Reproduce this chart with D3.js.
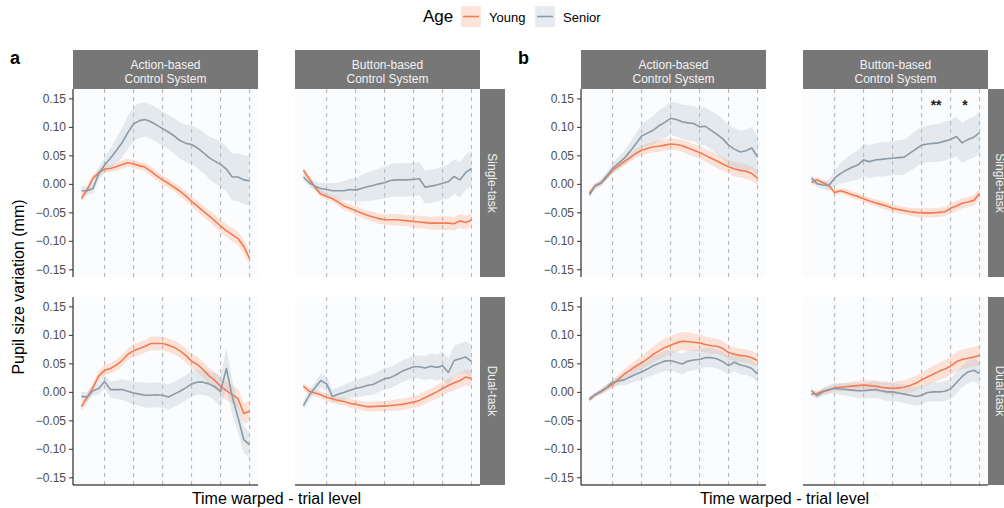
<!DOCTYPE html>
<html>
<head>
<meta charset="utf-8">
<script src="https://cdn.jsdelivr.net/npm/d3@7"></script>
<style>
  body { margin: 0; background: #fff; }
  svg { display: block; font-family: "Liberation Sans", Arial, sans-serif; }
</style>
</head>
<body>
<div id="chart"></div>
<script>
// ---- data ----
const timePoints = [2,4,6,8,10,12,14,16,18,20,22,24,26,28,30,32,34,36,38,40,42,44,46,48,50,52,54,56,58,60];
const phaseMarks = [10, 20, 30, 40, 50, 60];
const yTicks = [0.15, 0.10, 0.05, 0.00, -0.05, -0.10, -0.15];
const figures = ["a", "b"];
const systems = ["Action-based\nControl System", "Button-based\nControl System"];
const tasks = ["Single-task", "Dual-task"];
const ageGroups = ["Young", "Senior"];

// figure a
const aSingleActionYoung = [-0.026,-0.010,0.010,0.020,0.026,0.027,0.030,0.034,0.037,0.035,0.032,0.029,0.022,0.014,0.007,0.001,-0.006,-0.013,-0.021,-0.031,-0.039,-0.048,-0.056,-0.065,-0.074,-0.082,-0.089,-0.096,-0.110,-0.131];
const aSingleActionYoungSe = [0.006,0.006,0.006,0.006,0.006,0.006,0.007,0.007,0.007,0.007,0.007,0.007,0.008,0.008,0.008,0.008,0.008,0.009,0.009,0.009,0.010,0.010,0.010,0.011,0.011,0.011,0.012,0.012,0.012,0.012];
const aSingleActionSenior = [-0.012,-0.012,-0.008,0.018,0.033,0.045,0.058,0.072,0.090,0.105,0.111,0.113,0.109,0.103,0.097,0.091,0.084,0.076,0.071,0.069,0.063,0.055,0.046,0.040,0.034,0.026,0.012,0.012,0.007,0.005];
const aSingleActionSeniorSe = [0.008,0.008,0.009,0.011,0.013,0.017,0.022,0.026,0.029,0.030,0.031,0.030,0.030,0.030,0.030,0.030,0.031,0.032,0.033,0.034,0.035,0.036,0.037,0.039,0.040,0.040,0.041,0.042,0.043,0.044];

const aSingleButtonYoung = [0.024,0.009,-0.006,-0.018,-0.022,-0.026,-0.032,-0.039,-0.043,-0.047,-0.051,-0.055,-0.058,-0.061,-0.063,-0.063,-0.063,-0.064,-0.065,-0.066,-0.067,-0.068,-0.069,-0.069,-0.069,-0.069,-0.070,-0.065,-0.068,-0.063];
const aSingleButtonYoungSe = [0.005,0.005,0.005,0.006,0.006,0.006,0.007,0.007,0.007,0.008,0.008,0.008,0.009,0.009,0.009,0.010,0.010,0.010,0.010,0.011,0.011,0.011,0.011,0.012,0.012,0.012,0.012,0.012,0.012,0.012];
const aSingleButtonSenior = [0.012,0.002,-0.004,-0.008,-0.010,-0.012,-0.012,-0.012,-0.010,-0.011,-0.008,-0.005,-0.003,0.000,0.002,0.006,0.007,0.007,0.007,0.008,0.009,-0.006,-0.004,-0.002,0.001,0.004,0.013,0.007,0.020,0.027];
const aSingleButtonSeniorSe = [0.006,0.007,0.008,0.010,0.012,0.013,0.015,0.017,0.019,0.021,0.023,0.025,0.026,0.027,0.028,0.029,0.029,0.029,0.029,0.029,0.029,0.029,0.029,0.029,0.029,0.030,0.030,0.031,0.031,0.031];

const aDualActionYoung = [-0.026,-0.010,0.008,0.028,0.038,0.041,0.047,0.055,0.066,0.072,0.076,0.080,0.085,0.085,0.085,0.082,0.078,0.072,0.064,0.054,0.048,0.039,0.028,0.020,0.010,0.002,-0.005,-0.012,-0.038,-0.034];
const aDualActionYoungSe = [0.008,0.008,0.008,0.009,0.009,0.009,0.010,0.010,0.010,0.011,0.011,0.011,0.012,0.012,0.012,0.012,0.012,0.012,0.013,0.013,0.013,0.014,0.014,0.015,0.015,0.016,0.016,0.017,0.018,0.018];
const aDualActionSenior = [-0.008,-0.009,0.002,0.006,0.018,0.004,0.004,0.004,0.001,-0.002,-0.004,-0.006,-0.006,-0.005,-0.006,-0.009,-0.004,0.001,0.007,0.014,0.017,0.017,0.014,0.009,0.001,0.041,-0.008,-0.045,-0.084,-0.093];
const aDualActionSeniorSe = [0.008,0.008,0.009,0.010,0.012,0.014,0.016,0.018,0.019,0.020,0.021,0.022,0.022,0.022,0.022,0.022,0.022,0.022,0.022,0.022,0.022,0.022,0.022,0.024,0.028,0.036,0.030,0.026,0.024,0.022];

const aDualButtonYoung = [0.010,0.001,-0.002,-0.005,-0.010,-0.012,-0.015,-0.017,-0.020,-0.022,-0.024,-0.026,-0.026,-0.025,-0.025,-0.024,-0.023,-0.022,-0.020,-0.018,-0.015,-0.010,-0.005,0.000,0.006,0.011,0.016,0.020,0.026,0.023];
const aDualButtonYoungSe = [0.006,0.006,0.006,0.006,0.007,0.007,0.007,0.007,0.008,0.008,0.008,0.008,0.009,0.009,0.009,0.009,0.010,0.010,0.010,0.010,0.011,0.011,0.011,0.012,0.012,0.012,0.013,0.013,0.014,0.014];
const aDualButtonSenior = [-0.024,-0.006,0.007,0.020,0.014,-0.008,-0.004,-0.001,0.003,0.006,0.008,0.011,0.013,0.018,0.023,0.025,0.030,0.036,0.040,0.044,0.044,0.042,0.045,0.043,0.046,0.034,0.055,0.058,0.061,0.053];
const aDualButtonSeniorSe = [0.008,0.009,0.010,0.012,0.013,0.012,0.012,0.013,0.014,0.015,0.016,0.017,0.018,0.018,0.019,0.019,0.019,0.019,0.019,0.020,0.020,0.021,0.022,0.023,0.024,0.025,0.026,0.027,0.028,0.030];

// figure b
const bSingleActionYoung = [-0.016,-0.003,0.001,0.012,0.024,0.031,0.039,0.046,0.053,0.059,0.062,0.065,0.066,0.068,0.070,0.069,0.067,0.063,0.059,0.055,0.050,0.045,0.040,0.035,0.030,0.026,0.024,0.022,0.018,0.010];
const bSingleActionYoungSe = [0.004,0.004,0.005,0.005,0.006,0.006,0.007,0.007,0.008,0.008,0.009,0.009,0.010,0.010,0.010,0.010,0.010,0.011,0.011,0.011,0.011,0.012,0.012,0.012,0.012,0.013,0.013,0.013,0.013,0.013];
const bSingleActionSenior = [-0.019,-0.004,0.002,0.014,0.027,0.036,0.045,0.057,0.070,0.084,0.089,0.094,0.102,0.108,0.115,0.113,0.109,0.107,0.106,0.100,0.101,0.094,0.087,0.079,0.068,0.061,0.056,0.058,0.063,0.047];
const bSingleActionSeniorSe = [0.005,0.005,0.006,0.007,0.009,0.011,0.013,0.016,0.019,0.021,0.023,0.025,0.027,0.028,0.029,0.030,0.030,0.031,0.031,0.032,0.033,0.034,0.035,0.035,0.036,0.036,0.037,0.037,0.037,0.037];

const bSingleButtonYoung = [0.003,0.007,0.002,-0.003,-0.015,-0.012,-0.015,-0.019,-0.022,-0.026,-0.030,-0.033,-0.036,-0.039,-0.043,-0.045,-0.047,-0.049,-0.050,-0.051,-0.051,-0.051,-0.050,-0.049,-0.043,-0.039,-0.034,-0.032,-0.029,-0.017];
const bSingleButtonYoungSe = [0.005,0.005,0.005,0.005,0.005,0.005,0.006,0.006,0.006,0.006,0.006,0.006,0.007,0.007,0.007,0.007,0.007,0.007,0.008,0.008,0.008,0.008,0.008,0.008,0.009,0.009,0.009,0.009,0.009,0.009];
const bSingleButtonSenior = [0.010,0.000,-0.002,-0.003,0.010,0.018,0.024,0.029,0.033,0.042,0.039,0.042,0.043,0.044,0.045,0.046,0.047,0.054,0.061,0.068,0.070,0.071,0.072,0.075,0.078,0.083,0.072,0.078,0.082,0.090];
const bSingleButtonSeniorSe = [0.006,0.006,0.007,0.010,0.014,0.018,0.021,0.024,0.026,0.028,0.029,0.029,0.030,0.030,0.030,0.031,0.031,0.031,0.032,0.032,0.032,0.033,0.033,0.034,0.034,0.035,0.035,0.036,0.036,0.037];

const bDualActionYoung = [-0.014,-0.005,0.000,0.007,0.013,0.022,0.031,0.038,0.045,0.051,0.058,0.066,0.072,0.078,0.082,0.086,0.089,0.088,0.087,0.086,0.083,0.081,0.080,0.076,0.069,0.066,0.064,0.063,0.060,0.055];
const bDualActionYoungSe = [0.004,0.004,0.005,0.006,0.007,0.008,0.009,0.010,0.011,0.012,0.013,0.014,0.015,0.016,0.016,0.016,0.016,0.016,0.015,0.015,0.014,0.014,0.013,0.013,0.013,0.012,0.012,0.012,0.012,0.012];
const bDualActionSenior = [-0.012,-0.005,0.001,0.008,0.017,0.019,0.021,0.026,0.031,0.035,0.040,0.046,0.050,0.054,0.055,0.052,0.049,0.054,0.056,0.057,0.060,0.060,0.058,0.053,0.046,0.052,0.047,0.045,0.041,0.031];
const bDualActionSeniorSe = [0.004,0.004,0.005,0.006,0.007,0.008,0.010,0.011,0.013,0.014,0.015,0.016,0.017,0.018,0.018,0.018,0.018,0.018,0.018,0.018,0.017,0.017,0.017,0.017,0.016,0.016,0.016,0.015,0.015,0.015];

const bDualButtonYoung = [-0.004,-0.003,0.001,0.003,0.007,0.008,0.009,0.010,0.011,0.012,0.011,0.010,0.008,0.007,0.006,0.007,0.008,0.011,0.015,0.021,0.026,0.031,0.036,0.040,0.045,0.053,0.057,0.059,0.061,0.064];
const bDualButtonYoungSe = [0.005,0.005,0.005,0.006,0.006,0.007,0.007,0.008,0.008,0.009,0.009,0.010,0.010,0.011,0.011,0.012,0.012,0.013,0.013,0.014,0.014,0.015,0.015,0.016,0.016,0.017,0.017,0.017,0.018,0.018];
const bDualButtonSenior = [0.002,-0.007,0.000,0.004,0.006,0.005,0.004,0.003,0.002,0.002,0.003,0.004,0.002,0.000,0.000,-0.002,-0.004,-0.006,-0.008,-0.006,-0.001,0.000,0.000,0.001,0.005,0.016,0.027,0.035,0.038,0.032];
const bDualButtonSeniorSe = [0.006,0.006,0.007,0.008,0.009,0.010,0.011,0.012,0.013,0.014,0.014,0.015,0.015,0.016,0.016,0.016,0.016,0.016,0.016,0.016,0.016,0.017,0.017,0.018,0.018,0.019,0.019,0.020,0.020,0.020];

// significance marks (figure b, single-task, button-based)
const sigLabels = ["**", "*"];
const sigTimes = [45, 55];
const sigValue = 0.144;

// ---- assemble ----
const series = [
  ["a", 0, 0, "Young", aSingleActionYoung, aSingleActionYoungSe],
  ["a", 0, 0, "Senior", aSingleActionSenior, aSingleActionSeniorSe],
  ["a", 0, 1, "Young", aSingleButtonYoung, aSingleButtonYoungSe],
  ["a", 0, 1, "Senior", aSingleButtonSenior, aSingleButtonSeniorSe],
  ["a", 1, 0, "Young", aDualActionYoung, aDualActionYoungSe],
  ["a", 1, 0, "Senior", aDualActionSenior, aDualActionSeniorSe],
  ["a", 1, 1, "Young", aDualButtonYoung, aDualButtonYoungSe],
  ["a", 1, 1, "Senior", aDualButtonSenior, aDualButtonSeniorSe],
  ["b", 0, 0, "Young", bSingleActionYoung, bSingleActionYoungSe],
  ["b", 0, 0, "Senior", bSingleActionSenior, bSingleActionSeniorSe],
  ["b", 0, 1, "Young", bSingleButtonYoung, bSingleButtonYoungSe],
  ["b", 0, 1, "Senior", bSingleButtonSenior, bSingleButtonSeniorSe],
  ["b", 1, 0, "Young", bDualActionYoung, bDualActionYoungSe],
  ["b", 1, 0, "Senior", bDualActionSenior, bDualActionSeniorSe],
  ["b", 1, 1, "Young", bDualButtonYoung, bDualButtonYoungSe],
  ["b", 1, 1, "Senior", bDualButtonSenior, bDualButtonSeniorSe]
].map(([fig, row, col, age, mean, se]) => ({
  fig, row, col, age,
  values: timePoints.map((t, i) => ({ t, m: mean[i], lo: mean[i] - se[i], hi: mean[i] + se[i] }))
}));

// ---- layout ----
const width = 1004, height = 508;
const figOffset = { a: 0, b: 508 };
const colX = [73, 295];
const panelW = 185;
const rowY = [89, 297];
const panelH = 188;
const stripH = 39, stripW = 25;

const lineColor = { Young: "#f47a4f", Senior: "#8b9aa5" };
const bandColor = { Young: "#f9a487", Senior: "#b9c6d0" };
const bandOpacity = { Young: 0.3, Senior: 0.35 };

const x = d3.scaleLinear().domain([-0.9, 62.9]).range([0, panelW]);
const y = d3.scaleLinear().domain([-0.1635, 0.1665]).range([panelH, 0]);

const svg = d3.create("svg")
  .attr("width", width)
  .attr("height", height)
  .attr("viewBox", [0, 0, width, height]);

svg.append("rect").attr("width", width).attr("height", height).attr("fill", "#fff");

const area = d3.area().x(d => x(d.t)).y0(d => y(d.lo)).y1(d => y(d.hi));
const line = d3.line().x(d => x(d.t)).y(d => y(d.m));

svg.append("clipPath").attr("id", "panel-clip")
  .append("rect").attr("width", panelW).attr("height", panelH);

figures.forEach(fig => {
  const ox = figOffset[fig];

  // figure tag
  svg.append("text")
    .attr("x", ox + 10).attr("y", 64)
    .attr("font-size", 18).attr("font-weight", "bold")
    .text(fig);

  // column strips
  systems.forEach((s, c) => {
    const g = svg.append("g").attr("transform", `translate(${ox + colX[c]},${rowY[0] - stripH})`);
    g.append("rect").attr("width", panelW).attr("height", stripH).attr("fill", "#777777");
    s.split("\n").forEach((ln, k) => {
      g.append("text")
        .attr("x", panelW / 2).attr("y", 18.5 + k * 14)
        .attr("text-anchor", "middle")
        .attr("font-size", 12).attr("fill", "#f2f2f2")
        .text(ln);
    });
  });

  tasks.forEach((task, r) => {
    // row strip (the right one runs off the picture edge, as in the source)
    const sx = ox + colX[1] + panelW;
    svg.append("rect")
      .attr("x", sx).attr("y", rowY[r])
      .attr("width", stripW).attr("height", panelH)
      .attr("fill", "#777777");
    svg.append("text")
      .attr("transform", `translate(${sx + stripW / 2 - 4.5},${rowY[r] + panelH / 2}) rotate(90)`)
      .attr("text-anchor", "middle")
      .attr("font-size", 12).attr("fill", "#f2f2f2")
      .text(task);

    systems.forEach((s, c) => {
      const g = svg.append("g").attr("transform", `translate(${ox + colX[c]},${rowY[r]})`);
      g.append("rect").attr("width", panelW).attr("height", panelH).attr("fill", "#fbfcfd");

      g.append("g").selectAll("line")
        .data(phaseMarks)
        .join("line")
        .attr("x1", d => x(d)).attr("x2", d => x(d))
        .attr("y1", 0).attr("y2", panelH)
        .attr("stroke", "#a9a9a9")
        .attr("stroke-width", 0.9)
        .attr("stroke-dasharray", "4,4");

      const data = series.filter(d => d.fig === fig && d.row === r && d.col === c);
      const inner = g.append("g").attr("clip-path", "url(#panel-clip)");
      inner.selectAll("path.band")
        .data(data)
        .join("path")
        .attr("class", "band")
        .attr("d", d => area(d.values))
        .attr("fill", d => bandColor[d.age])
        .attr("fill-opacity", d => bandOpacity[d.age]);
      inner.selectAll("path.mean")
        .data(data)
        .join("path")
        .attr("class", "mean")
        .attr("d", d => line(d.values))
        .attr("fill", "none")
        .attr("stroke", d => lineColor[d.age])
        .attr("stroke-width", 1.6)
        .attr("stroke-linejoin", "round");

      // y axis only on the left column
      if (c === 0) {
        const ax = g.append("g")
          .call(d3.axisLeft(y).tickValues(yTicks).tickSize(4).tickPadding(3).tickFormat(d3.format(".2f")));
        ax.select(".domain").attr("stroke", "#000").attr("d", `M0,0V${panelH}`);
        ax.selectAll(".tick line").attr("stroke", "#333");
        ax.selectAll(".tick text")
          .attr("font-size", 12).attr("fill", "#4d4d4d")
          .attr("font-family", '"Liberation Sans", Arial, sans-serif');
      }
      // x axis line only on the bottom row, no ticks
      if (r === 1) {
        g.append("line")
          .attr("x1", 0).attr("x2", panelW)
          .attr("y1", panelH).attr("y2", panelH)
          .attr("stroke", "#000").attr("stroke-width", 1);
      }

      if (fig === "b" && r === 0 && c === 1) {
        g.selectAll("text.sig")
          .data(sigLabels)
          .join("text")
          .attr("class", "sig")
          .attr("x", (d, i) => x(sigTimes[i]))
          .attr("y", y(sigValue) + 8.5)
          .attr("text-anchor", "middle")
          .attr("font-size", 14).attr("font-weight", "bold")
          .attr("fill", "#222")
          .text(d => d);
      }
    });
  });

  // x title
  svg.append("text")
    .attr("x", ox + (colX[0] + colX[1] + panelW) / 2)
    .attr("y", 504)
    .attr("text-anchor", "middle")
    .attr("font-size", 16)
    .text("Time warped - trial level");
});

// y title
svg.append("text")
  .attr("transform", `translate(24,${(rowY[0] + rowY[1] + panelH) / 2}) rotate(-90)`)
  .attr("text-anchor", "middle")
  .attr("font-size", 16)
  .text("Pupil size variation (mm)");

// legend
const legend = svg.append("g").attr("transform", "translate(423,0)");
legend.append("text").attr("x", 0).attr("y", 22).attr("font-size", 17).text("Age");
const keyX = [38, 112];
ageGroups.forEach((a, i) => {
  const k = legend.append("g").attr("transform", `translate(${keyX[i]},6)`);
  k.append("rect").attr("width", 20).attr("height", 21)
    .attr("fill", bandColor[a]).attr("fill-opacity", bandOpacity[a]);
  k.append("line").attr("x1", 2).attr("x2", 18).attr("y1", 10.5).attr("y2", 10.5)
    .attr("stroke", lineColor[a]).attr("stroke-width", 1.6);
  k.append("text").attr("x", 28).attr("y", 15.5).attr("font-size", 13).text(a);
});

document.getElementById("chart").append(svg.node());
</script>
</body>
</html>
